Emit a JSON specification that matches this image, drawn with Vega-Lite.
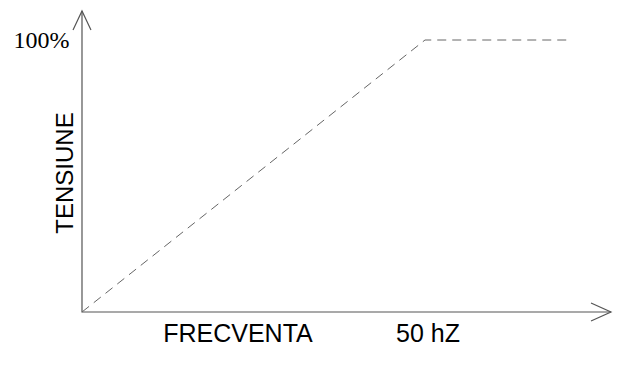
{
  "$schema": "https://vega.github.io/schema/vega-lite/v6.json",
  "width": 624,
  "height": 367,
  "padding": 0,
  "autosize": {"type": "none"},
  "background": "white",
  "config": {"view": {"stroke": null}},
  "datasets": {
    "axes": [
      {"g": "axes", "o": 1, "x": 0, "y": 110.66},
      {"g": "axes", "o": 2, "x": 0, "y": 0},
      {"g": "axes", "o": 3, "x": 77.11, "y": 0},
      {"g": "upArrow", "o": 1, "x": -1.31, "y": 103.68},
      {"g": "upArrow", "o": 2, "x": 0, "y": 110.66},
      {"g": "upArrow", "o": 3, "x": 1.31, "y": 103.68},
      {"g": "rightArrow", "o": 1, "x": 74.2, "y": 3.31},
      {"g": "rightArrow", "o": 2, "x": 77.11, "y": 0},
      {"g": "rightArrow", "o": 3, "x": 74.2, "y": -3.31}
    ],
    "curve": [
      {"o": 1, "x": 0, "y": 0},
      {"o": 2, "x": 50, "y": 100},
      {"o": 3, "x": 71.1, "y": 100}
    ],
    "serifText": [
      {"label": "100%", "x": -5.9, "y": 97.06}
    ],
    "sansText": [
      {"label": "FRECVENTA", "x": 22.74, "y": -11.03},
      {"label": "50 hZ", "x": 50.44, "y": -11.03}
    ],
    "rotText": [
      {"label": "TENSIUNE", "x": -1.31, "y": 51.1}
    ]
  },
  "layer": [
    {
      "data": {"name": "axes"},
      "mark": {"type": "line", "color": "#555555", "strokeWidth": 1.2},
      "encoding": {
        "x": {"field": "x", "type": "quantitative", "scale": {"domain": [-11.953, 79.009], "nice": false, "zero": false}, "axis": null},
        "y": {"field": "y", "type": "quantitative", "scale": {"domain": [-20.22, 114.71], "nice": false, "zero": false}, "axis": null},
        "detail": {"field": "g"},
        "order": {"field": "o"}
      }
    },
    {
      "data": {"name": "curve"},
      "mark": {"type": "line", "color": "#666666", "strokeWidth": 1, "strokeDash": [9, 6]},
      "encoding": {
        "x": {"field": "x", "type": "quantitative"},
        "y": {"field": "y", "type": "quantitative"},
        "order": {"field": "o"}
      }
    },
    {
      "data": {"name": "serifText"},
      "mark": {"type": "text", "font": "Liberation Serif", "fontSize": 24, "align": "center", "baseline": "alphabetic", "color": "#000000"},
      "encoding": {
        "x": {"field": "x", "type": "quantitative"},
        "y": {"field": "y", "type": "quantitative"},
        "text": {"field": "label"}
      }
    },
    {
      "data": {"name": "sansText"},
      "mark": {"type": "text", "font": "Liberation Sans", "fontSize": 25, "align": "center", "baseline": "alphabetic", "color": "#000000"},
      "encoding": {
        "x": {"field": "x", "type": "quantitative"},
        "y": {"field": "y", "type": "quantitative"},
        "text": {"field": "label"}
      }
    },
    {
      "data": {"name": "rotText"},
      "mark": {"type": "text", "font": "Liberation Sans", "fontSize": 24, "align": "center", "baseline": "alphabetic", "angle": 270, "color": "#000000"},
      "encoding": {
        "x": {"field": "x", "type": "quantitative"},
        "y": {"field": "y", "type": "quantitative"},
        "text": {"field": "label"}
      }
    }
  ]
}
